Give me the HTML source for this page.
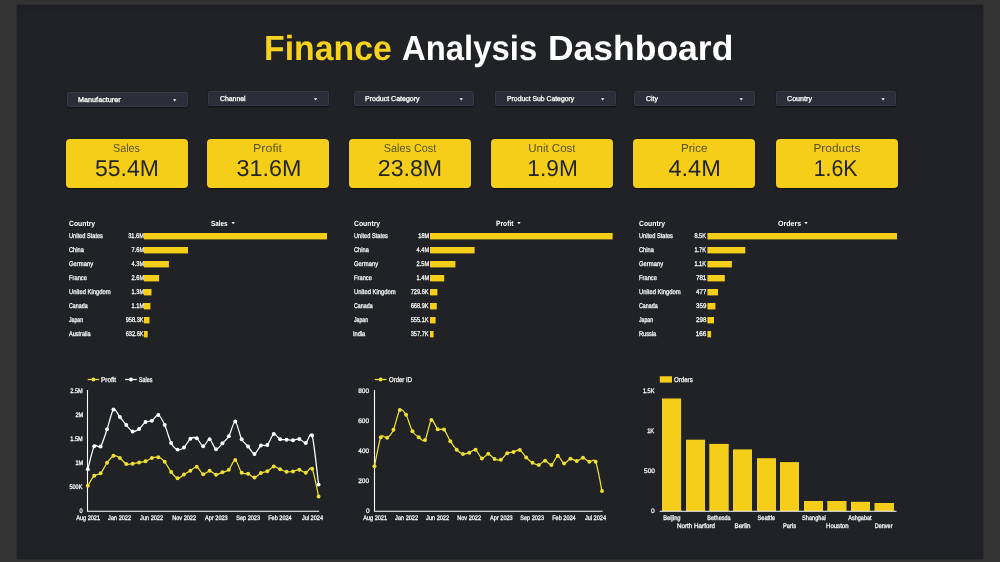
<!DOCTYPE html>
<html lang="en"><head><meta charset="utf-8"><title>Finance Analysis Dashboard</title>
<style>
html,body{margin:0;padding:0}
body{width:1000px;height:562px;overflow:hidden;background:#333333;font-family:"Liberation Sans",sans-serif;color:#f4f4f4;position:relative;text-rendering:geometricPrecision}
.panel{position:absolute;left:17px;top:5px;width:966px;height:554px;background:#202226;box-shadow:0 0 1.5px rgba(0,0,0,.5),inset 0 0 0 6px rgba(0,0,0,.05)}
.t{position:absolute;white-space:nowrap;line-height:1;display:block}
.s{-webkit-text-stroke:.3px currentColor}
h1{margin:0;font-weight:700}
.dd{position:absolute;box-sizing:border-box;background:#2b2d38;border:1px solid #373a46;border-radius:1.5px;box-shadow:0 1px 2px rgba(0,0,0,.5)}
.card{position:absolute;background:#f5ce19;border-radius:4px;box-shadow:0 1px 2px rgba(0,0,0,.55)}
svg{position:absolute;left:0;top:0;overflow:visible}
</style></head><body>
<div class="panel"></div>

<h1>
<span class="t" style="top:31px;font-size:35px;left:263.74px;transform:scaleX(0.9664);transform-origin:0 50%;font-weight:700;color:#f6d220;">Finance</span>
<span class="t" style="top:31px;font-size:35px;left:402.18px;transform:scaleX(0.9389);transform-origin:0 50%;font-weight:700;color:#ffffff;">Analysis</span>
<span class="t" style="top:31px;font-size:35px;left:548.03px;transform:scaleX(1.0137);transform-origin:0 50%;font-weight:700;color:#ffffff;">Dashboard</span>
</h1>
<div class="filters">
<div class="dd" style="left:66.7px;top:92px;width:121.3px;height:15.0px"></div>
<span class="t s" style="top:97px;font-size:7.1px;left:78.41px;transform:scaleX(1.0211);transform-origin:0 50%;color:#ffffff;">Manufacturer</span>
<div class="dd" style="left:208px;top:91px;width:120.9px;height:15.4px"></div>
<span class="t s" style="top:96px;font-size:7.1px;left:220.35px;transform:scaleX(0.9683);transform-origin:0 50%;color:#ffffff;">Channel</span>
<div class="dd" style="left:353.7px;top:91px;width:120.8px;height:15.4px"></div>
<span class="t s" style="top:96px;font-size:7.1px;left:365.42px;transform:scaleX(0.9880);transform-origin:0 50%;color:#ffffff;">Product Category</span>
<div class="dd" style="left:495px;top:91px;width:121.0px;height:15.4px"></div>
<span class="t s" style="top:96px;font-size:7.1px;left:507.14px;transform:scaleX(0.9630);transform-origin:0 50%;color:#ffffff;">Product Sub Category</span>
<div class="dd" style="left:634px;top:91px;width:120.5px;height:15.4px"></div>
<span class="t s" style="top:96px;font-size:7.1px;left:646.25px;transform:scaleX(0.9702);transform-origin:0 50%;color:#ffffff;">City</span>
<div class="dd" style="left:776px;top:91px;width:120.4px;height:15.0px"></div>
<span class="t s" style="top:96px;font-size:7.1px;left:787.34px;transform:scaleX(1.0047);transform-origin:0 50%;color:#ffffff;">Country</span>
</div>
<div class="kpis">
<div class="card" style="left:65.5px;top:139px;width:122.2px;height:49.2px"></div>
<span class="t" style="top:143px;font-size:11.6px;left:112.04px;transform:scaleX(0.9262);transform-origin:50% 50%;color:#5b5424;">Sales</span>
<span class="t" style="top:157px;font-size:23px;left:95.12px;transform:scaleX(0.9981);transform-origin:50% 50%;color:#23252a;">55.4M</span>
<div class="card" style="left:207.3px;top:139px;width:121.8px;height:49.2px"></div>
<span class="t" style="top:143px;font-size:11.6px;left:254.20px;transform:scaleX(1.0754);transform-origin:50% 50%;color:#5b5424;">Profit</span>
<span class="t" style="top:157px;font-size:23px;left:236.75px;transform:scaleX(1.0137);transform-origin:50% 50%;color:#23252a;">31.6M</span>
<div class="card" style="left:348.6px;top:139px;width:122.4px;height:49.2px"></div>
<span class="t" style="top:143px;font-size:11.6px;left:381.55px;transform:scaleX(0.9355);transform-origin:50% 50%;color:#5b5424;">Sales Cost</span>
<span class="t" style="top:157px;font-size:23px;left:378.21px;transform:scaleX(1.0085);transform-origin:50% 50%;color:#23252a;">23.8M</span>
<div class="card" style="left:491.1px;top:139px;width:122.2px;height:49.2px"></div>
<span class="t" style="top:143px;font-size:11.6px;left:527.95px;transform:scaleX(0.9909);transform-origin:50% 50%;color:#5b5424;">Unit Cost</span>
<span class="t" style="top:157px;font-size:23px;left:526.70px;transform:scaleX(0.9854);transform-origin:50% 50%;color:#23252a;">1.9M</span>
<div class="card" style="left:633.2px;top:139px;width:122.0px;height:49.2px"></div>
<span class="t" style="top:143px;font-size:11.6px;left:680.77px;transform:scaleX(1.0015);transform-origin:50% 50%;color:#5b5424;">Price</span>
<span class="t" style="top:157px;font-size:23px;left:669.33px;transform:scaleX(1.0243);transform-origin:50% 50%;color:#23252a;">4.4M</span>
<div class="card" style="left:775.6px;top:139px;width:122.2px;height:49.2px"></div>
<span class="t" style="top:143px;font-size:11.6px;left:813.54px;transform:scaleX(1.0246);transform-origin:50% 50%;color:#5b5424;">Products</span>
<span class="t" style="top:157px;font-size:23px;left:812.35px;transform:scaleX(0.9271);transform-origin:50% 50%;color:#23252a;">1.6K</span>
</div>
<div class="tbl">
<span class="t" style="top:220px;font-size:7.5px;left:69.22px;transform:scaleX(0.9085);transform-origin:0 50%;font-weight:700;color:#ffffff;">Country</span>
<span class="t" style="top:220px;font-size:7.5px;left:211.32px;transform:scaleX(0.8492);transform-origin:0 50%;font-weight:700;color:#ffffff;">Sales</span>
<span class="t s" style="top:234px;font-size:6.8px;left:69.06px;transform:scaleX(0.8314);transform-origin:0 50%;color:#f4f4f4;">United States</span>
<span class="t s" style="top:234px;font-size:6.8px;right:856.34px;transform:scaleX(0.8300);transform-origin:100% 50%;color:#f4f4f4;">31.6M</span>
<span class="t s" style="top:248px;font-size:6.8px;left:69.21px;transform:scaleX(0.8323);transform-origin:0 50%;color:#f4f4f4;">China</span>
<span class="t s" style="top:248px;font-size:6.8px;right:856.34px;transform:scaleX(0.8300);transform-origin:100% 50%;color:#f4f4f4;">7.6M</span>
<span class="t s" style="top:262px;font-size:6.8px;left:69.21px;transform:scaleX(0.8621);transform-origin:0 50%;color:#f4f4f4;">Germany</span>
<span class="t s" style="top:262px;font-size:6.8px;right:856.34px;transform:scaleX(0.8300);transform-origin:100% 50%;color:#f4f4f4;">4.3M</span>
<span class="t s" style="top:276px;font-size:6.8px;left:69.03px;transform:scaleX(0.8471);transform-origin:0 50%;color:#f4f4f4;">France</span>
<span class="t s" style="top:276px;font-size:6.8px;right:856.34px;transform:scaleX(0.8300);transform-origin:100% 50%;color:#f4f4f4;">2.6M</span>
<span class="t s" style="top:290px;font-size:6.8px;left:69.05px;transform:scaleX(0.8627);transform-origin:0 50%;color:#f4f4f4;">United Kingdom</span>
<span class="t s" style="top:290px;font-size:6.8px;right:856.34px;transform:scaleX(0.8300);transform-origin:100% 50%;color:#f4f4f4;">1.3M</span>
<span class="t s" style="top:304px;font-size:6.8px;left:69.23px;transform:scaleX(0.7881);transform-origin:0 50%;color:#f4f4f4;">Canada</span>
<span class="t s" style="top:304px;font-size:6.8px;right:856.34px;transform:scaleX(0.8300);transform-origin:100% 50%;color:#f4f4f4;">1.1M</span>
<span class="t s" style="top:318px;font-size:6.8px;left:69.42px;transform:scaleX(0.7564);transform-origin:0 50%;color:#f4f4f4;">Japan</span>
<span class="t s" style="top:318px;font-size:6.8px;right:856.74px;transform:scaleX(0.8300);transform-origin:100% 50%;color:#f4f4f4;">958.3K</span>
<span class="t s" style="top:332px;font-size:6.8px;left:69.49px;transform:scaleX(0.8168);transform-origin:0 50%;color:#f4f4f4;">Australia</span>
<span class="t s" style="top:332px;font-size:6.8px;right:856.74px;transform:scaleX(0.8300);transform-origin:100% 50%;color:#f4f4f4;">632.6K</span>
</div>
<div class="tbl">
<span class="t" style="top:220px;font-size:7.5px;left:353.72px;transform:scaleX(0.9085);transform-origin:0 50%;font-weight:700;color:#ffffff;">Country</span>
<span class="t" style="top:220px;font-size:7.5px;left:495.55px;transform:scaleX(0.8953);transform-origin:0 50%;font-weight:700;color:#ffffff;">Profit</span>
<span class="t s" style="top:234px;font-size:6.8px;left:353.56px;transform:scaleX(0.8314);transform-origin:0 50%;color:#f4f4f4;">United States</span>
<span class="t s" style="top:234px;font-size:6.8px;right:570.84px;transform:scaleX(0.8300);transform-origin:100% 50%;color:#f4f4f4;">18M</span>
<span class="t s" style="top:248px;font-size:6.8px;left:353.71px;transform:scaleX(0.8323);transform-origin:0 50%;color:#f4f4f4;">China</span>
<span class="t s" style="top:248px;font-size:6.8px;right:570.84px;transform:scaleX(0.8300);transform-origin:100% 50%;color:#f4f4f4;">4.4M</span>
<span class="t s" style="top:262px;font-size:6.8px;left:353.71px;transform:scaleX(0.8621);transform-origin:0 50%;color:#f4f4f4;">Germany</span>
<span class="t s" style="top:262px;font-size:6.8px;right:570.84px;transform:scaleX(0.8300);transform-origin:100% 50%;color:#f4f4f4;">2.5M</span>
<span class="t s" style="top:276px;font-size:6.8px;left:353.53px;transform:scaleX(0.8471);transform-origin:0 50%;color:#f4f4f4;">France</span>
<span class="t s" style="top:276px;font-size:6.8px;right:570.84px;transform:scaleX(0.8300);transform-origin:100% 50%;color:#f4f4f4;">1.4M</span>
<span class="t s" style="top:290px;font-size:6.8px;left:353.55px;transform:scaleX(0.8627);transform-origin:0 50%;color:#f4f4f4;">United Kingdom</span>
<span class="t s" style="top:290px;font-size:6.8px;right:571.24px;transform:scaleX(0.8300);transform-origin:100% 50%;color:#f4f4f4;">729.6K</span>
<span class="t s" style="top:304px;font-size:6.8px;left:353.73px;transform:scaleX(0.7881);transform-origin:0 50%;color:#f4f4f4;">Canada</span>
<span class="t s" style="top:304px;font-size:6.8px;right:571.24px;transform:scaleX(0.8300);transform-origin:100% 50%;color:#f4f4f4;">668.9K</span>
<span class="t s" style="top:318px;font-size:6.8px;left:353.92px;transform:scaleX(0.7564);transform-origin:0 50%;color:#f4f4f4;">Japan</span>
<span class="t s" style="top:318px;font-size:6.8px;right:571.24px;transform:scaleX(0.8300);transform-origin:100% 50%;color:#f4f4f4;">555.1K</span>
<span class="t s" style="top:332px;font-size:6.8px;left:353.48px;transform:scaleX(0.8300);transform-origin:0 50%;color:#f4f4f4;">India</span>
<span class="t s" style="top:332px;font-size:6.8px;right:571.24px;transform:scaleX(0.8300);transform-origin:100% 50%;color:#f4f4f4;">357.7K</span>
</div>
<div class="tbl">
<span class="t" style="top:220px;font-size:7.5px;left:639.22px;transform:scaleX(0.9085);transform-origin:0 50%;font-weight:700;color:#ffffff;">Country</span>
<span class="t" style="top:220px;font-size:7.5px;left:777.71px;transform:scaleX(0.9383);transform-origin:0 50%;font-weight:700;color:#ffffff;">Orders</span>
<span class="t s" style="top:234px;font-size:6.8px;left:639.06px;transform:scaleX(0.8314);transform-origin:0 50%;color:#f4f4f4;">United States</span>
<span class="t s" style="top:234px;font-size:6.8px;right:293.94px;transform:scaleX(0.8300);transform-origin:100% 50%;color:#f4f4f4;">8.5K</span>
<span class="t s" style="top:248px;font-size:6.8px;left:639.21px;transform:scaleX(0.8323);transform-origin:0 50%;color:#f4f4f4;">China</span>
<span class="t s" style="top:248px;font-size:6.8px;right:293.94px;transform:scaleX(0.8300);transform-origin:100% 50%;color:#f4f4f4;">1.7K</span>
<span class="t s" style="top:262px;font-size:6.8px;left:639.21px;transform:scaleX(0.8621);transform-origin:0 50%;color:#f4f4f4;">Germany</span>
<span class="t s" style="top:262px;font-size:6.8px;right:293.94px;transform:scaleX(0.8300);transform-origin:100% 50%;color:#f4f4f4;">1.1K</span>
<span class="t s" style="top:276px;font-size:6.8px;left:639.03px;transform:scaleX(0.8471);transform-origin:0 50%;color:#f4f4f4;">France</span>
<span class="t s" style="top:276px;font-size:6.8px;right:293.69px;transform:scaleX(0.9189);transform-origin:100% 50%;color:#f4f4f4;">781</span>
<span class="t s" style="top:290px;font-size:6.8px;left:639.05px;transform:scaleX(0.8627);transform-origin:0 50%;color:#f4f4f4;">United Kingdom</span>
<span class="t s" style="top:290px;font-size:6.8px;right:293.69px;transform:scaleX(0.9034);transform-origin:100% 50%;color:#f4f4f4;">477</span>
<span class="t s" style="top:304px;font-size:6.8px;left:639.23px;transform:scaleX(0.7881);transform-origin:0 50%;color:#f4f4f4;">Canada</span>
<span class="t s" style="top:304px;font-size:6.8px;right:293.71px;transform:scaleX(0.9104);transform-origin:100% 50%;color:#f4f4f4;">359</span>
<span class="t s" style="top:318px;font-size:6.8px;left:639.42px;transform:scaleX(0.7564);transform-origin:0 50%;color:#f4f4f4;">Japan</span>
<span class="t s" style="top:318px;font-size:6.8px;right:293.73px;transform:scaleX(0.9152);transform-origin:100% 50%;color:#f4f4f4;">298</span>
<span class="t s" style="top:332px;font-size:6.8px;left:639.04px;transform:scaleX(0.8300);transform-origin:0 50%;color:#f4f4f4;">Russia</span>
<span class="t s" style="top:332px;font-size:6.8px;right:293.72px;transform:scaleX(0.9308);transform-origin:100% 50%;color:#f4f4f4;">166</span>
</div>
<svg width="1000" height="562" viewBox="0 0 1000 562">
<g><path d="M87.5 390 V511.3 H319.2" fill="none" stroke="#fff" stroke-width="1.1"/>
<path d="M87.80 469.30C88.65 466.23 92.50 449.34 94.21 446.30C95.92 443.26 98.91 448.77 100.62 446.50C102.33 444.23 105.32 434.23 107.03 429.30C108.74 424.37 111.73 411.14 113.44 409.50C115.15 407.86 118.15 414.93 119.86 417.00C121.57 419.07 124.56 423.07 126.27 425.00C127.98 426.93 130.97 430.97 132.68 431.50C134.39 432.03 137.38 430.27 139.09 429.00C140.80 427.73 143.79 423.09 145.50 422.00C147.21 420.91 150.20 421.73 151.91 420.80C153.62 419.87 156.61 414.44 158.32 415.00C160.03 415.56 163.02 421.27 164.73 425.00C166.44 428.73 169.43 439.72 171.14 443.00C172.85 446.28 175.85 449.00 177.56 449.60C179.27 450.20 182.26 448.94 183.97 447.50C185.68 446.06 188.67 440.03 190.38 438.80C192.09 437.57 195.08 437.31 196.79 438.30C198.50 439.29 201.49 446.08 203.20 446.20C204.91 446.32 207.90 438.79 209.61 439.20C211.32 439.61 214.31 448.75 216.02 449.30C217.73 449.85 220.72 445.05 222.43 443.30C224.14 441.55 227.13 439.11 228.84 436.20C230.55 433.29 233.55 421.09 235.26 421.50C236.97 421.91 239.96 435.97 241.67 439.30C243.38 442.63 246.37 444.54 248.08 446.50C249.79 448.46 252.78 454.13 254.49 454.00C256.20 453.87 259.19 446.70 260.90 445.50C262.61 444.30 265.60 446.53 267.31 445.00C269.02 443.47 272.01 434.77 273.72 434.00C275.43 433.23 278.42 438.44 280.13 439.20C281.84 439.96 284.83 439.57 286.54 439.70C288.25 439.83 291.25 440.29 292.96 440.20C294.67 440.11 297.66 438.63 299.37 439.00C301.08 439.37 304.07 443.47 305.78 443.00C307.49 442.53 310.48 429.95 312.19 435.50C313.90 441.05 317.75 478.05 318.60 484.60" fill="none" stroke="#ffffff" stroke-width="1.25" stroke-linejoin="round"/><circle cx="87.80" cy="469.30" r="1.95" fill="#ffffff"/><circle cx="94.21" cy="446.30" r="1.95" fill="#ffffff"/><circle cx="100.62" cy="446.50" r="1.95" fill="#ffffff"/><circle cx="107.03" cy="429.30" r="1.95" fill="#ffffff"/><circle cx="113.44" cy="409.50" r="1.95" fill="#ffffff"/><circle cx="119.86" cy="417.00" r="1.95" fill="#ffffff"/><circle cx="126.27" cy="425.00" r="1.95" fill="#ffffff"/><circle cx="132.68" cy="431.50" r="1.95" fill="#ffffff"/><circle cx="139.09" cy="429.00" r="1.95" fill="#ffffff"/><circle cx="145.50" cy="422.00" r="1.95" fill="#ffffff"/><circle cx="151.91" cy="420.80" r="1.95" fill="#ffffff"/><circle cx="158.32" cy="415.00" r="1.95" fill="#ffffff"/><circle cx="164.73" cy="425.00" r="1.95" fill="#ffffff"/><circle cx="171.14" cy="443.00" r="1.95" fill="#ffffff"/><circle cx="177.56" cy="449.60" r="1.95" fill="#ffffff"/><circle cx="183.97" cy="447.50" r="1.95" fill="#ffffff"/><circle cx="190.38" cy="438.80" r="1.95" fill="#ffffff"/><circle cx="196.79" cy="438.30" r="1.95" fill="#ffffff"/><circle cx="203.20" cy="446.20" r="1.95" fill="#ffffff"/><circle cx="209.61" cy="439.20" r="1.95" fill="#ffffff"/><circle cx="216.02" cy="449.30" r="1.95" fill="#ffffff"/><circle cx="222.43" cy="443.30" r="1.95" fill="#ffffff"/><circle cx="228.84" cy="436.20" r="1.95" fill="#ffffff"/><circle cx="235.26" cy="421.50" r="1.95" fill="#ffffff"/><circle cx="241.67" cy="439.30" r="1.95" fill="#ffffff"/><circle cx="248.08" cy="446.50" r="1.95" fill="#ffffff"/><circle cx="254.49" cy="454.00" r="1.95" fill="#ffffff"/><circle cx="260.90" cy="445.50" r="1.95" fill="#ffffff"/><circle cx="267.31" cy="445.00" r="1.95" fill="#ffffff"/><circle cx="273.72" cy="434.00" r="1.95" fill="#ffffff"/><circle cx="280.13" cy="439.20" r="1.95" fill="#ffffff"/><circle cx="286.54" cy="439.70" r="1.95" fill="#ffffff"/><circle cx="292.96" cy="440.20" r="1.95" fill="#ffffff"/><circle cx="299.37" cy="439.00" r="1.95" fill="#ffffff"/><circle cx="305.78" cy="443.00" r="1.95" fill="#ffffff"/><circle cx="312.19" cy="435.50" r="1.95" fill="#ffffff"/><circle cx="318.60" cy="484.60" r="1.95" fill="#ffffff"/>
<path d="M87.80 485.80C88.65 484.47 92.50 477.47 94.21 475.80C95.92 474.13 98.91 475.03 100.62 473.30C102.33 471.57 105.32 465.13 107.03 462.80C108.74 460.47 111.73 456.44 113.44 455.80C115.15 455.16 118.15 456.91 119.86 458.00C121.57 459.09 124.56 463.23 126.27 464.00C127.98 464.77 130.97 464.00 132.68 463.80C134.39 463.60 137.38 462.83 139.09 462.50C140.80 462.17 143.79 461.90 145.50 461.30C147.21 460.70 150.20 458.55 151.91 458.00C153.62 457.45 156.61 456.69 158.32 457.20C160.03 457.71 163.02 459.83 164.73 461.80C166.44 463.77 169.43 469.80 171.14 472.00C172.85 474.20 175.85 477.97 177.56 478.30C179.27 478.63 182.26 475.50 183.97 474.50C185.68 473.50 188.67 471.83 190.38 470.80C192.09 469.77 195.08 466.33 196.79 466.80C198.50 467.27 201.49 473.77 203.20 474.30C204.91 474.83 207.90 470.75 209.61 470.80C211.32 470.85 214.31 474.50 216.02 474.70C217.73 474.90 220.72 472.95 222.43 472.30C224.14 471.65 227.13 471.44 228.84 469.80C230.55 468.16 233.55 459.60 235.26 460.00C236.97 460.40 239.96 470.97 241.67 472.80C243.38 474.63 246.37 473.07 248.08 473.70C249.79 474.33 252.78 477.59 254.49 477.50C256.20 477.41 259.19 473.83 260.90 473.00C262.61 472.17 265.60 472.17 267.31 471.30C269.02 470.43 272.01 466.77 273.72 466.50C275.43 466.23 278.42 468.59 280.13 469.30C281.84 470.01 284.83 471.51 286.54 471.80C288.25 472.09 291.25 471.78 292.96 471.50C294.67 471.22 297.66 469.53 299.37 469.70C301.08 469.87 304.07 472.92 305.78 472.80C307.49 472.68 310.48 465.64 312.19 468.80C313.90 471.96 317.75 492.81 318.60 496.50" fill="none" stroke="#efe034" stroke-width="1.25" stroke-linejoin="round"/><circle cx="87.80" cy="485.80" r="1.95" fill="#efe034"/><circle cx="94.21" cy="475.80" r="1.95" fill="#efe034"/><circle cx="100.62" cy="473.30" r="1.95" fill="#efe034"/><circle cx="107.03" cy="462.80" r="1.95" fill="#efe034"/><circle cx="113.44" cy="455.80" r="1.95" fill="#efe034"/><circle cx="119.86" cy="458.00" r="1.95" fill="#efe034"/><circle cx="126.27" cy="464.00" r="1.95" fill="#efe034"/><circle cx="132.68" cy="463.80" r="1.95" fill="#efe034"/><circle cx="139.09" cy="462.50" r="1.95" fill="#efe034"/><circle cx="145.50" cy="461.30" r="1.95" fill="#efe034"/><circle cx="151.91" cy="458.00" r="1.95" fill="#efe034"/><circle cx="158.32" cy="457.20" r="1.95" fill="#efe034"/><circle cx="164.73" cy="461.80" r="1.95" fill="#efe034"/><circle cx="171.14" cy="472.00" r="1.95" fill="#efe034"/><circle cx="177.56" cy="478.30" r="1.95" fill="#efe034"/><circle cx="183.97" cy="474.50" r="1.95" fill="#efe034"/><circle cx="190.38" cy="470.80" r="1.95" fill="#efe034"/><circle cx="196.79" cy="466.80" r="1.95" fill="#efe034"/><circle cx="203.20" cy="474.30" r="1.95" fill="#efe034"/><circle cx="209.61" cy="470.80" r="1.95" fill="#efe034"/><circle cx="216.02" cy="474.70" r="1.95" fill="#efe034"/><circle cx="222.43" cy="472.30" r="1.95" fill="#efe034"/><circle cx="228.84" cy="469.80" r="1.95" fill="#efe034"/><circle cx="235.26" cy="460.00" r="1.95" fill="#efe034"/><circle cx="241.67" cy="472.80" r="1.95" fill="#efe034"/><circle cx="248.08" cy="473.70" r="1.95" fill="#efe034"/><circle cx="254.49" cy="477.50" r="1.95" fill="#efe034"/><circle cx="260.90" cy="473.00" r="1.95" fill="#efe034"/><circle cx="267.31" cy="471.30" r="1.95" fill="#efe034"/><circle cx="273.72" cy="466.50" r="1.95" fill="#efe034"/><circle cx="280.13" cy="469.30" r="1.95" fill="#efe034"/><circle cx="286.54" cy="471.80" r="1.95" fill="#efe034"/><circle cx="292.96" cy="471.50" r="1.95" fill="#efe034"/><circle cx="299.37" cy="469.70" r="1.95" fill="#efe034"/><circle cx="305.78" cy="472.80" r="1.95" fill="#efe034"/><circle cx="312.19" cy="468.80" r="1.95" fill="#efe034"/><circle cx="318.60" cy="496.50" r="1.95" fill="#efe034"/>
<path d="M87.7 379.5 H99.1" stroke="#efe034" stroke-width="1.25"/><circle cx="93.4" cy="379.5" r="1.95" fill="#efe034"/>
<path d="M125.1 379.5 H136.8" stroke="#fff" stroke-width="1.25"/><circle cx="131" cy="379.5" r="1.95" fill="#fff"/></g>
<g><path d="M374.5 390 V511.3 H602.6" fill="none" stroke="#fff" stroke-width="1.1"/>
<path d="M374.50 466.20C375.34 462.33 379.13 440.99 380.82 437.20C382.50 433.41 385.45 438.79 387.14 437.80C388.82 436.81 391.77 433.51 393.46 429.80C395.14 426.09 398.09 412.00 399.78 410.00C401.46 408.00 404.41 411.96 406.10 414.80C407.78 417.64 410.73 428.30 412.42 431.30C414.10 434.30 417.05 436.14 418.74 437.30C420.42 438.46 423.37 442.31 425.06 440.00C426.74 437.69 429.69 421.43 431.38 420.00C433.06 418.57 436.01 428.03 437.69 429.30C439.38 430.57 442.33 427.91 444.01 429.50C445.70 431.09 448.65 438.51 450.33 441.20C452.02 443.89 454.97 447.99 456.65 449.70C458.34 451.41 461.29 453.60 462.97 454.00C464.66 454.40 467.61 453.27 469.29 452.70C470.98 452.13 473.93 448.93 475.61 449.70C477.30 450.47 480.25 457.95 481.93 458.50C483.62 459.05 486.56 453.73 488.25 453.80C489.94 453.87 492.88 458.20 494.57 459.00C496.25 459.80 499.20 460.57 500.89 459.80C502.57 459.03 505.52 454.24 507.21 453.20C508.89 452.16 511.84 452.43 513.53 452.00C515.21 451.57 518.16 449.27 519.85 450.00C521.53 450.73 524.48 455.79 526.17 457.50C527.85 459.21 530.80 461.80 532.49 462.80C534.17 463.80 537.12 465.28 538.81 465.00C540.49 464.72 543.44 460.70 545.12 460.70C546.81 460.70 549.76 465.65 551.44 465.00C553.13 464.35 556.08 456.00 557.76 455.80C559.45 455.60 562.40 463.11 564.08 463.50C565.77 463.89 568.72 459.03 570.40 458.70C572.09 458.37 575.04 461.12 576.72 461.00C578.41 460.88 581.36 457.69 583.04 457.80C584.73 457.91 587.68 461.27 589.36 461.80C591.05 462.33 594.00 457.91 595.68 461.80C597.37 465.69 601.16 487.11 602.00 491.00" fill="none" stroke="#efe034" stroke-width="1.25" stroke-linejoin="round"/><circle cx="374.50" cy="466.20" r="1.95" fill="#efe034"/><circle cx="380.82" cy="437.20" r="1.95" fill="#efe034"/><circle cx="387.14" cy="437.80" r="1.95" fill="#efe034"/><circle cx="393.46" cy="429.80" r="1.95" fill="#efe034"/><circle cx="399.78" cy="410.00" r="1.95" fill="#efe034"/><circle cx="406.10" cy="414.80" r="1.95" fill="#efe034"/><circle cx="412.42" cy="431.30" r="1.95" fill="#efe034"/><circle cx="418.74" cy="437.30" r="1.95" fill="#efe034"/><circle cx="425.06" cy="440.00" r="1.95" fill="#efe034"/><circle cx="431.38" cy="420.00" r="1.95" fill="#efe034"/><circle cx="437.69" cy="429.30" r="1.95" fill="#efe034"/><circle cx="444.01" cy="429.50" r="1.95" fill="#efe034"/><circle cx="450.33" cy="441.20" r="1.95" fill="#efe034"/><circle cx="456.65" cy="449.70" r="1.95" fill="#efe034"/><circle cx="462.97" cy="454.00" r="1.95" fill="#efe034"/><circle cx="469.29" cy="452.70" r="1.95" fill="#efe034"/><circle cx="475.61" cy="449.70" r="1.95" fill="#efe034"/><circle cx="481.93" cy="458.50" r="1.95" fill="#efe034"/><circle cx="488.25" cy="453.80" r="1.95" fill="#efe034"/><circle cx="494.57" cy="459.00" r="1.95" fill="#efe034"/><circle cx="500.89" cy="459.80" r="1.95" fill="#efe034"/><circle cx="507.21" cy="453.20" r="1.95" fill="#efe034"/><circle cx="513.53" cy="452.00" r="1.95" fill="#efe034"/><circle cx="519.85" cy="450.00" r="1.95" fill="#efe034"/><circle cx="526.17" cy="457.50" r="1.95" fill="#efe034"/><circle cx="532.49" cy="462.80" r="1.95" fill="#efe034"/><circle cx="538.81" cy="465.00" r="1.95" fill="#efe034"/><circle cx="545.12" cy="460.70" r="1.95" fill="#efe034"/><circle cx="551.44" cy="465.00" r="1.95" fill="#efe034"/><circle cx="557.76" cy="455.80" r="1.95" fill="#efe034"/><circle cx="564.08" cy="463.50" r="1.95" fill="#efe034"/><circle cx="570.40" cy="458.70" r="1.95" fill="#efe034"/><circle cx="576.72" cy="461.00" r="1.95" fill="#efe034"/><circle cx="583.04" cy="457.80" r="1.95" fill="#efe034"/><circle cx="589.36" cy="461.80" r="1.95" fill="#efe034"/><circle cx="595.68" cy="461.80" r="1.95" fill="#efe034"/><circle cx="602.00" cy="491.00" r="1.95" fill="#efe034"/>
<path d="M374.8 379.5 H386.5" stroke="#efe034" stroke-width="1.25"/><circle cx="380.6" cy="379.5" r="1.95" fill="#efe034"/></g>
<g>
<rect x="662" y="398.5" width="19.1" height="112.5" fill="#f5ce19"/>
<rect x="686" y="439.7" width="19.0" height="71.3" fill="#f5ce19"/>
<rect x="709.3" y="443.9" width="19.4" height="67.1" fill="#f5ce19"/>
<rect x="733" y="449.4" width="19.0" height="61.6" fill="#f5ce19"/>
<rect x="757" y="458.2" width="19.0" height="52.8" fill="#f5ce19"/>
<rect x="780" y="462.1" width="19.0" height="48.9" fill="#f5ce19"/>
<rect x="804" y="501" width="19.0" height="10.0" fill="#f5ce19"/>
<rect x="827.3" y="501" width="19.2" height="10.0" fill="#f5ce19"/>
<rect x="851" y="501.8" width="19.0" height="9.2" fill="#f5ce19"/>
<rect x="874.5" y="503" width="19.5" height="8.0" fill="#f5ce19"/>
<path d="M659.7 511.3 H896.5" stroke="#fff" stroke-width="1.1"/>
<rect x="659.8" y="376.3" width="12.2" height="6.3" fill="#f5ce19"/></g>
<g><path d="M173.00 99.30h3.4l-1.70 2.1z" fill="#fff"/><path d="M313.90 98.30h3.4l-1.70 2.1z" fill="#fff"/><path d="M459.50 98.30h3.4l-1.70 2.1z" fill="#fff"/><path d="M601.00 98.30h3.4l-1.70 2.1z" fill="#fff"/><path d="M739.50 98.30h3.4l-1.70 2.1z" fill="#fff"/><path d="M881.40 98.30h3.4l-1.70 2.1z" fill="#fff"/><path d="M231.50 222.05h3.4l-1.70 2.1z" fill="#fff"/><rect x="144" y="233.0" width="183.0" height="6.4" fill="#f5ce19"/><rect x="144" y="247.0" width="44.0" height="6.4" fill="#f5ce19"/><rect x="144" y="261.0" width="24.9" height="6.4" fill="#f5ce19"/><rect x="144" y="275.0" width="15.1" height="6.4" fill="#f5ce19"/><rect x="144" y="289.0" width="7.5" height="6.4" fill="#f5ce19"/><rect x="144" y="303.0" width="6.4" height="6.4" fill="#f5ce19"/><rect x="144" y="317.0" width="5.5" height="6.4" fill="#f5ce19"/><rect x="144" y="331.0" width="3.7" height="6.4" fill="#f5ce19"/><path d="M517.30 222.05h3.4l-1.70 2.1z" fill="#fff"/><rect x="430" y="233.0" width="182.6" height="6.4" fill="#f5ce19"/><rect x="430" y="247.0" width="44.6" height="6.4" fill="#f5ce19"/><rect x="430" y="261.0" width="25.4" height="6.4" fill="#f5ce19"/><rect x="430" y="275.0" width="14.2" height="6.4" fill="#f5ce19"/><rect x="430" y="289.0" width="7.4" height="6.4" fill="#f5ce19"/><rect x="430" y="303.0" width="6.8" height="6.4" fill="#f5ce19"/><rect x="430" y="317.0" width="5.6" height="6.4" fill="#f5ce19"/><rect x="430" y="331.0" width="3.6" height="6.4" fill="#f5ce19"/><path d="M804.30 222.05h3.4l-1.70 2.1z" fill="#fff"/><rect x="707.4" y="233.0" width="189.6" height="6.4" fill="#f5ce19"/><rect x="707.4" y="247.0" width="37.9" height="6.4" fill="#f5ce19"/><rect x="707.4" y="261.0" width="24.5" height="6.4" fill="#f5ce19"/><rect x="707.4" y="275.0" width="17.4" height="6.4" fill="#f5ce19"/><rect x="707.4" y="289.0" width="10.6" height="6.4" fill="#f5ce19"/><rect x="707.4" y="303.0" width="8.0" height="6.4" fill="#f5ce19"/><rect x="707.4" y="317.0" width="6.6" height="6.4" fill="#f5ce19"/><rect x="707.4" y="331.0" width="3.7" height="6.4" fill="#f5ce19"/></g>
</svg>
<div class="labels">
<span class="t s" style="top:378px;font-size:6.9px;left:101.17px;transform:scaleX(0.9362);transform-origin:0 50%;color:#f4f4f4;">Profit</span>
<span class="t s" style="top:378px;font-size:6.9px;left:138.96px;transform:scaleX(0.7786);transform-origin:0 50%;color:#f4f4f4;">Sales</span>
<span class="t s" style="top:389px;font-size:6.6px;right:917.14px;transform:scaleX(0.8450);transform-origin:100% 50%;color:#f4f4f4;">2.5M</span>
<span class="t s" style="top:413px;font-size:6.6px;right:917.14px;transform:scaleX(0.8450);transform-origin:100% 50%;color:#f4f4f4;">2M</span>
<span class="t s" style="top:437px;font-size:6.6px;right:917.14px;transform:scaleX(0.8450);transform-origin:100% 50%;color:#f4f4f4;">1.5M</span>
<span class="t s" style="top:461px;font-size:6.6px;right:917.14px;transform:scaleX(0.8450);transform-origin:100% 50%;color:#f4f4f4;">1M</span>
<span class="t s" style="top:485px;font-size:6.6px;right:917.54px;transform:scaleX(0.8450);transform-origin:100% 50%;color:#f4f4f4;">500K</span>
<span class="t s" style="top:509px;font-size:6.6px;right:917.38px;transform:scaleX(0.8450);transform-origin:100% 50%;color:#f4f4f4;">0</span>
<span class="t s" style="top:516px;font-size:6.6px;left:73.60px;transform:scaleX(0.8450);transform-origin:50% 50%;color:#f4f4f4;">Aug 2021</span>
<span class="t s" style="top:516px;font-size:6.6px;left:106.17px;transform:scaleX(0.8450);transform-origin:50% 50%;color:#f4f4f4;">Jan 2022</span>
<span class="t s" style="top:516px;font-size:6.6px;left:138.23px;transform:scaleX(0.8450);transform-origin:50% 50%;color:#f4f4f4;">Jun 2022</span>
<span class="t s" style="top:516px;font-size:6.6px;left:169.55px;transform:scaleX(0.8450);transform-origin:50% 50%;color:#f4f4f4;">Nov 2022</span>
<span class="t s" style="top:516px;font-size:6.6px;left:202.55px;transform:scaleX(0.8450);transform-origin:50% 50%;color:#f4f4f4;">Apr 2023</span>
<span class="t s" style="top:516px;font-size:6.6px;left:233.74px;transform:scaleX(0.8450);transform-origin:50% 50%;color:#f4f4f4;">Sep 2023</span>
<span class="t s" style="top:516px;font-size:6.6px;left:265.84px;transform:scaleX(0.8450);transform-origin:50% 50%;color:#f4f4f4;">Feb 2024</span>
<span class="t s" style="top:516px;font-size:6.6px;left:299.55px;transform:scaleX(0.8450);transform-origin:50% 50%;color:#f4f4f4;">Jul 2024</span>
<span class="t s" style="top:378px;font-size:6.9px;left:388.51px;transform:scaleX(0.8722);transform-origin:0 50%;color:#f4f4f4;">Order ID</span>
<span class="t s" style="top:389px;font-size:6.6px;right:630.75px;transform:scaleX(0.9840);transform-origin:100% 50%;color:#f4f4f4;">800</span>
<span class="t s" style="top:419px;font-size:6.6px;right:630.75px;transform:scaleX(0.9886);transform-origin:100% 50%;color:#f4f4f4;">600</span>
<span class="t s" style="top:449px;font-size:6.6px;right:630.75px;transform:scaleX(0.9715);transform-origin:100% 50%;color:#f4f4f4;">400</span>
<span class="t s" style="top:479px;font-size:6.6px;right:630.75px;transform:scaleX(0.9883);transform-origin:100% 50%;color:#f4f4f4;">200</span>
<span class="t s" style="top:509px;font-size:6.6px;right:630.75px;transform:scaleX(0.9826);transform-origin:100% 50%;color:#f4f4f4;">0</span>
<span class="t s" style="top:516px;font-size:6.6px;left:360.50px;transform:scaleX(0.8450);transform-origin:50% 50%;color:#f4f4f4;">Aug 2021</span>
<span class="t s" style="top:516px;font-size:6.6px;left:392.62px;transform:scaleX(0.8450);transform-origin:50% 50%;color:#f4f4f4;">Jan 2022</span>
<span class="t s" style="top:516px;font-size:6.6px;left:424.21px;transform:scaleX(0.8450);transform-origin:50% 50%;color:#f4f4f4;">Jun 2022</span>
<span class="t s" style="top:516px;font-size:6.6px;left:455.08px;transform:scaleX(0.8450);transform-origin:50% 50%;color:#f4f4f4;">Nov 2022</span>
<span class="t s" style="top:516px;font-size:6.6px;left:487.61px;transform:scaleX(0.8450);transform-origin:50% 50%;color:#f4f4f4;">Apr 2023</span>
<span class="t s" style="top:516px;font-size:6.6px;left:518.35px;transform:scaleX(0.8450);transform-origin:50% 50%;color:#f4f4f4;">Sep 2023</span>
<span class="t s" style="top:516px;font-size:6.6px;left:549.99px;transform:scaleX(0.8450);transform-origin:50% 50%;color:#f4f4f4;">Feb 2024</span>
<span class="t s" style="top:516px;font-size:6.6px;left:583.24px;transform:scaleX(0.8450);transform-origin:50% 50%;color:#f4f4f4;">Jul 2024</span>
<span class="t s" style="top:378px;font-size:6.9px;left:673.71px;transform:scaleX(0.8873);transform-origin:0 50%;color:#f4f4f4;">Orders</span>
<span class="t s" style="top:389px;font-size:6.6px;right:345.64px;transform:scaleX(0.8615);transform-origin:100% 50%;color:#f4f4f4;">1.5K</span>
<span class="t s" style="top:429px;font-size:6.6px;right:345.64px;transform:scaleX(0.8538);transform-origin:100% 50%;color:#f4f4f4;">1K</span>
<span class="t s" style="top:469px;font-size:6.6px;right:345.44px;transform:scaleX(0.9914);transform-origin:100% 50%;color:#f4f4f4;">500</span>
<span class="t s" style="top:509px;font-size:6.6px;right:345.45px;transform:scaleX(0.9826);transform-origin:100% 50%;color:#f4f4f4;">0</span>
<span class="t s" style="top:516px;font-size:6.6px;left:662.04px;transform:scaleX(0.8755);transform-origin:50% 50%;color:#f4f4f4;">Beijing</span>
<span class="t s" style="top:524px;font-size:6.6px;left:675.55px;transform:scaleX(0.9535);transform-origin:50% 50%;color:#f4f4f4;">North Harford</span>
<span class="t s" style="top:516px;font-size:6.6px;left:704.93px;transform:scaleX(0.8301);transform-origin:50% 50%;color:#f4f4f4;">Bethesda</span>
<span class="t s" style="top:524px;font-size:6.6px;left:734.01px;transform:scaleX(0.9432);transform-origin:50% 50%;color:#f4f4f4;">Berlin</span>
<span class="t s" style="top:516px;font-size:6.6px;left:756.02px;transform:scaleX(0.8519);transform-origin:50% 50%;color:#f4f4f4;">Seattle</span>
<span class="t s" style="top:524px;font-size:6.6px;left:782.35px;transform:scaleX(0.8697);transform-origin:50% 50%;color:#f4f4f4;">Paris</span>
<span class="t s" style="top:516px;font-size:6.6px;left:799.52px;transform:scaleX(0.8546);transform-origin:50% 50%;color:#f4f4f4;">Shanghai</span>
<span class="t s" style="top:524px;font-size:6.6px;left:824.66px;transform:scaleX(0.9148);transform-origin:50% 50%;color:#f4f4f4;">Houston</span>
<span class="t s" style="top:516px;font-size:6.6px;left:846.47px;transform:scaleX(0.8337);transform-origin:50% 50%;color:#f4f4f4;">Ashgabat</span>
<span class="t s" style="top:524px;font-size:6.6px;left:872.78px;transform:scaleX(0.8339);transform-origin:50% 50%;color:#f4f4f4;">Denver</span>
</div>
</body></html>
